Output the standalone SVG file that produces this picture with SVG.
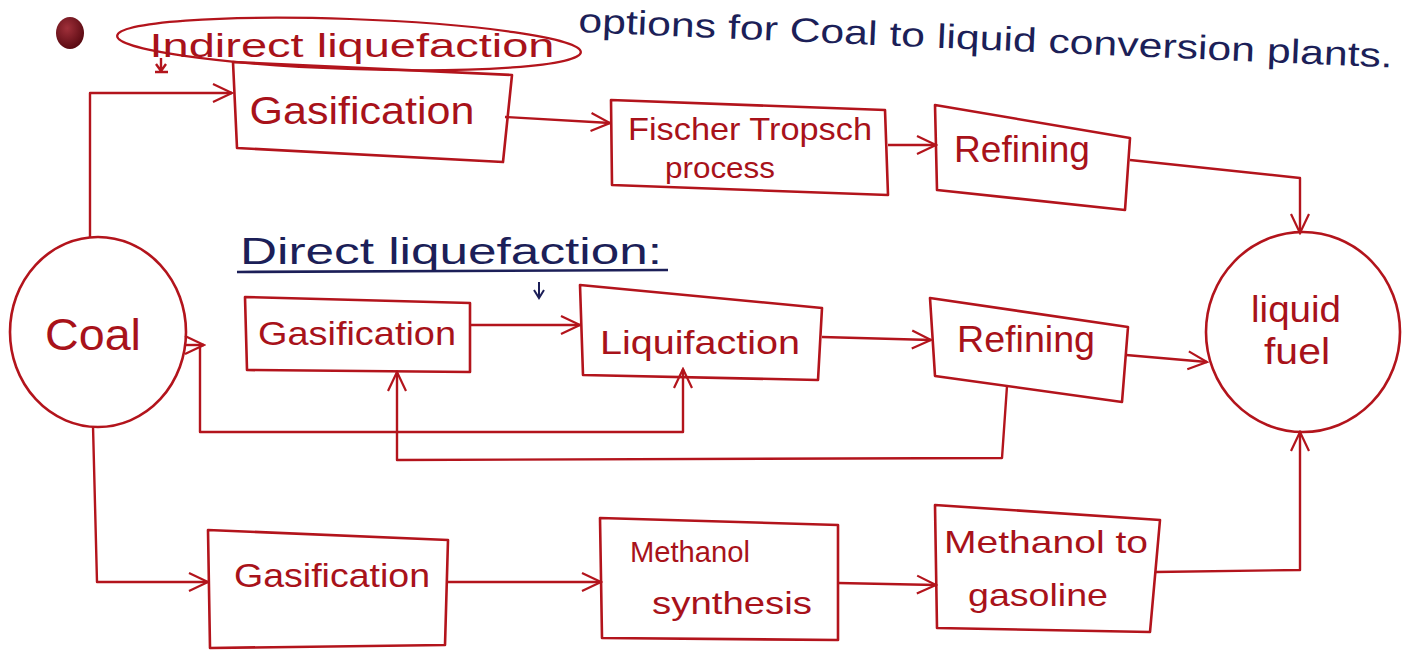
<svg xmlns="http://www.w3.org/2000/svg" width="1414" height="664" viewBox="0 0 1414 664">
<defs>
<marker id="arr" viewBox="0 0 24 24" refX="22" refY="12" markerWidth="24" markerHeight="24" markerUnits="userSpaceOnUse" orient="auto">
<path d="M3,3 L22,12 L3,21" fill="none" stroke="#b3141c" stroke-width="2.2"/>
</marker>
<radialGradient id="bul" cx="40%" cy="35%" r="65%">
<stop offset="0" stop-color="#a0303a"/>
<stop offset="1" stop-color="#5a0a12"/>
</radialGradient>
<style>
.box{fill:none;stroke:#b3141c;stroke-width:2.6;stroke-linejoin:round}
.ln{fill:none;stroke:#b3141c;stroke-width:2.4;stroke-linejoin:round}
.t{font-family:"Liberation Sans","DejaVu Sans",sans-serif;fill:#a8121a;text-anchor:middle}
.h{font-family:"Liberation Sans","DejaVu Sans",sans-serif;fill:#1c1f58}
</style>
</defs>
<rect width="1414" height="664" fill="#ffffff"/>

<g id="header">
<ellipse cx="70" cy="33" rx="14" ry="16" fill="url(#bul)"/>
<text class="h" x="578" y="32" font-size="34" textLength="815" lengthAdjust="spacingAndGlyphs" transform="rotate(2.5 578 32)">options for Coal to liquid conversion plants.</text>
<ellipse cx="349" cy="44" rx="232" ry="25" fill="none" stroke="#b3141c" stroke-width="2.2" transform="rotate(2 349 44)"/>
<text class="t" x="352" y="57" font-size="33" textLength="405" lengthAdjust="spacingAndGlyphs">Indirect liquefaction</text>
<path class="ln" d="M161,58 L161,70 M156,64 L161,71 L166,64 M155,72 L168,72" stroke-width="1.8"/>
</g>

<g id="direct-label">
<text class="h" x="240" y="264" font-size="36" textLength="422" lengthAdjust="spacingAndGlyphs">Direct liquefaction:</text>
<path d="M237,272 L668,270" fill="none" stroke="#1c1f58" stroke-width="2.6"/>
<path d="M539,282 L539,297 M534,290 L539,298 L544,290" fill="none" stroke="#1c1f58" stroke-width="2"/>
</g>

<g id="coal">
<ellipse cx="98" cy="332" rx="88" ry="95" class="box"/>
<text class="t" x="93" y="350" font-size="44" textLength="96" lengthAdjust="spacingAndGlyphs">Coal</text>
</g>

<g id="liquid-fuel">
<ellipse cx="1303" cy="332" rx="97" ry="100" class="box"/>
<text class="t" x="1296" y="322" font-size="36" textLength="90" lengthAdjust="spacingAndGlyphs">liquid</text>
<text class="t" x="1297" y="364" font-size="36" textLength="66" lengthAdjust="spacingAndGlyphs">fuel</text>
</g>

<g id="gasification-1">
<polygon class="box" points="233,62 512,75 503,162 237,148"/>
<text class="t" x="362" y="124" font-size="38" textLength="225" lengthAdjust="spacingAndGlyphs">Gasification</text>
</g>
<g id="fischer-tropsch">
<polygon class="box" points="611,100 885,110 888,195 612,185"/>
<text class="t" x="750" y="140" font-size="32" textLength="244" lengthAdjust="spacingAndGlyphs">Fischer Tropsch</text>
<text class="t" x="720" y="178" font-size="30" textLength="110" lengthAdjust="spacingAndGlyphs">process</text>
</g>
<g id="refining-1">
<polygon class="box" points="935,105 1130,138 1125,210 937,190"/>
<text class="t" x="1022" y="162" font-size="36" textLength="136" lengthAdjust="spacingAndGlyphs">Refining</text>
</g>

<g id="gasification-2">
<polygon class="box" points="245,297 470,303 470,372 247,370"/>
<text class="t" x="357" y="345" font-size="34" textLength="198" lengthAdjust="spacingAndGlyphs">Gasification</text>
</g>
<g id="liquifaction">
<polygon class="box" points="580,285 822,308 818,380 583,375"/>
<text class="t" x="700" y="354" font-size="34" textLength="200" lengthAdjust="spacingAndGlyphs">Liquifaction</text>
</g>
<g id="refining-2">
<polygon class="box" points="930,298 1128,327 1122,402 935,376"/>
<text class="t" x="1026" y="352" font-size="36" textLength="138" lengthAdjust="spacingAndGlyphs">Refining</text>
</g>

<g id="gasification-3">
<polygon class="box" points="208,530 448,540 445,645 210,648"/>
<text class="t" x="332" y="587" font-size="34" textLength="196" lengthAdjust="spacingAndGlyphs">Gasification</text>
</g>
<g id="methanol-synthesis">
<polygon class="box" points="600,518 838,525 838,640 602,638"/>
<text class="t" x="690" y="562" font-size="30" textLength="120" lengthAdjust="spacingAndGlyphs">Methanol</text>
<text class="t" x="732" y="614" font-size="32" textLength="160" lengthAdjust="spacingAndGlyphs">synthesis</text>
</g>
<g id="methanol-to-gasoline">
<polygon class="box" points="935,505 1160,520 1150,632 937,628"/>
<text class="t" x="1046" y="553" font-size="32" textLength="204" lengthAdjust="spacingAndGlyphs">Methanol to</text>
<text class="t" x="1038" y="606" font-size="32" textLength="140" lengthAdjust="spacingAndGlyphs">gasoline</text>
</g>

<g id="connectors">
<path class="ln" d="M90,238 L90,93 L232,93" marker-end="url(#arr)"/>
<path class="ln" d="M505,117 L610,123" marker-end="url(#arr)"/>
<path class="ln" d="M888,145 L936,145" marker-end="url(#arr)"/>
<path class="ln" d="M1130,160 L1300,178 L1300,233" marker-end="url(#arr)"/>
<path class="ln" d="M186,345 L204,345" marker-end="url(#arr)"/>
<path class="ln" d="M200,345 L200,432 L683,432 L683,369" marker-end="url(#arr)"/>
<path class="ln" d="M470,325 L580,325" marker-end="url(#arr)"/>
<path class="ln" d="M822,337 L931,340" marker-end="url(#arr)"/>
<path class="ln" d="M1126,355 L1207,362" marker-end="url(#arr)"/>
<path class="ln" d="M1007,386 L1002,458 L397,460 L397,372" marker-end="url(#arr)"/>
<path class="ln" d="M93,426 L97,582 L208,582" marker-end="url(#arr)"/>
<path class="ln" d="M447,582 L601,582" marker-end="url(#arr)"/>
<path class="ln" d="M838,583 L936,585" marker-end="url(#arr)"/>
<path class="ln" d="M1155,572 L1300,570 L1300,432" marker-end="url(#arr)"/>
</g>
</svg>
